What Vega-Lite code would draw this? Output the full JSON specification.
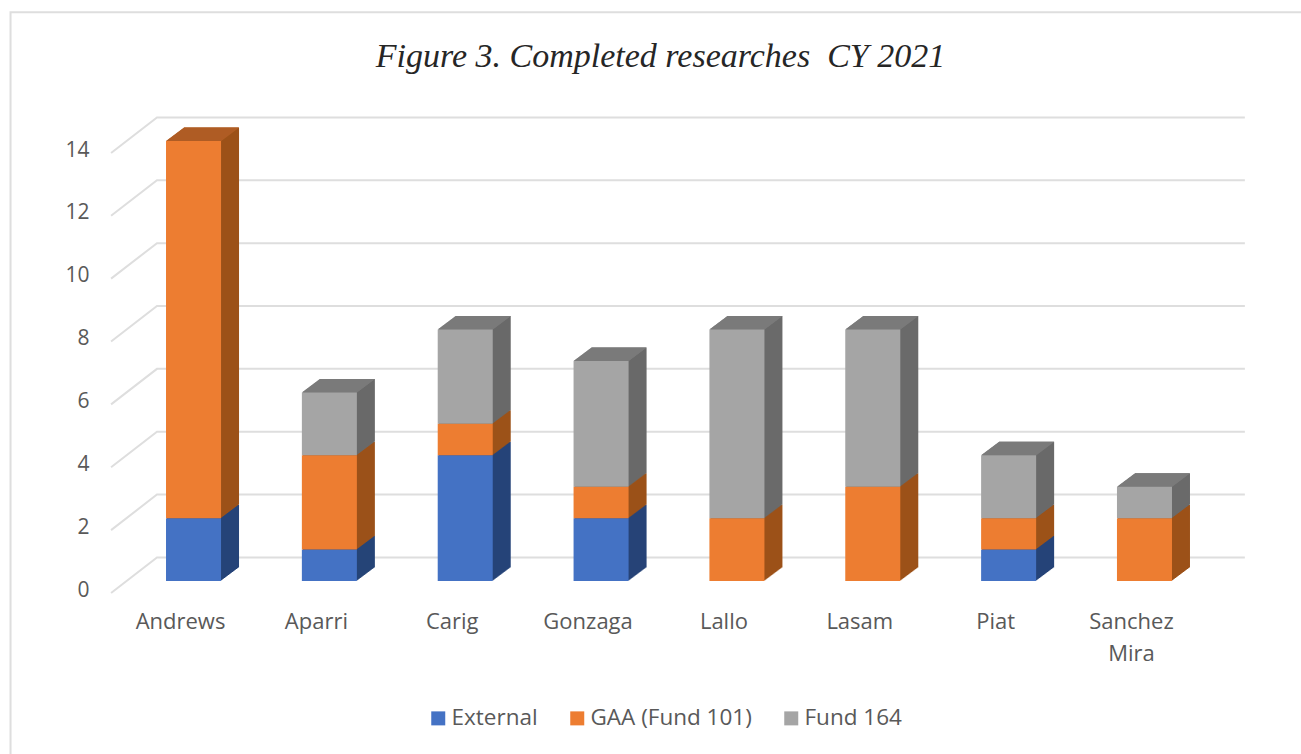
{
"$schema":"https://vega.github.io/schema/vega-lite/v6.json",
"width":1301,"height":754,"padding":0,"autosize":{"type":"none"},"background":"white",
"config":{"view":{"stroke":null}},
"title":{"text":"Figure 3. Completed researches \u00a0CY 2021","anchor":"middle","dx":10,"dy":78,"font":"Liberation Serif","fontStyle":"italic","fontWeight":"normal","fontSize":34,"color":"#262626"},
"resolve":{"scale":{"x":"independent"},"axis":{"y":"independent"}},
"layer":[
{"data":{"values":[
{"line":"border","u":-0.847,"v":-5.6,"o":1},{"line":"border","u":-0.847,"v":18.1,"o":2},{"line":"border","u":8.66,"v":18.1,"o":3},
{"line":"0","u":-0.107,"v":-0.38,"o":1},{"line":"0","u":0.231,"v":0.75,"o":2},{"line":"0","u":8.239,"v":0.75,"o":3},
{"line":"2","u":-0.107,"v":1.62,"o":1},{"line":"2","u":0.231,"v":2.75,"o":2},{"line":"2","u":8.239,"v":2.75,"o":3},
{"line":"4","u":-0.107,"v":3.62,"o":1},{"line":"4","u":0.231,"v":4.75,"o":2},{"line":"4","u":8.239,"v":4.75,"o":3},
{"line":"6","u":-0.107,"v":5.62,"o":1},{"line":"6","u":0.231,"v":6.75,"o":2},{"line":"6","u":8.239,"v":6.75,"o":3},
{"line":"8","u":-0.107,"v":7.62,"o":1},{"line":"8","u":0.231,"v":8.75,"o":2},{"line":"8","u":8.239,"v":8.75,"o":3},
{"line":"10","u":-0.107,"v":9.62,"o":1},{"line":"10","u":0.231,"v":10.75,"o":2},{"line":"10","u":8.239,"v":10.75,"o":3},
{"line":"12","u":-0.107,"v":11.62,"o":1},{"line":"12","u":0.231,"v":12.75,"o":2},{"line":"12","u":8.239,"v":12.75,"o":3},
{"line":"14","u":-0.107,"v":13.62,"o":1},{"line":"14","u":0.231,"v":14.75,"o":2},{"line":"14","u":8.239,"v":14.75,"o":3}
]},
"mark":{"type":"line","color":"#dedede","strokeWidth":2,"clip":false},
"encoding":{
"x":{"field":"u","type":"quantitative","axis":null,"scale":{"domain":[0,8],"range":[125.6,1212.4],"nice":false,"zero":false}},
"y":{"field":"v","type":"quantitative","axis":null,"scale":{"domain":[0,14],"range":[581,141],"nice":false,"zero":false}},
"detail":{"field":"line"},
"order":{"field":"o"}}},
{"data":{"values":[
{"site":"Andrews","series":"External","rank":1,"value":2},{"site":"Andrews","series":"GAA (Fund 101)","rank":2,"value":12},
{"site":"Aparri","series":"External","rank":1,"value":1},{"site":"Aparri","series":"GAA (Fund 101)","rank":2,"value":3},{"site":"Aparri","series":"Fund 164","rank":3,"value":2},
{"site":"Carig","series":"External","rank":1,"value":4},{"site":"Carig","series":"GAA (Fund 101)","rank":2,"value":1},{"site":"Carig","series":"Fund 164","rank":3,"value":3},
{"site":"Gonzaga","series":"External","rank":1,"value":2},{"site":"Gonzaga","series":"GAA (Fund 101)","rank":2,"value":1},{"site":"Gonzaga","series":"Fund 164","rank":3,"value":4},
{"site":"Lallo","series":"GAA (Fund 101)","rank":2,"value":2},{"site":"Lallo","series":"Fund 164","rank":3,"value":6},
{"site":"Lasam","series":"GAA (Fund 101)","rank":2,"value":3},{"site":"Lasam","series":"Fund 164","rank":3,"value":5},
{"site":"Piat","series":"External","rank":1,"value":1},{"site":"Piat","series":"GAA (Fund 101)","rank":2,"value":1},{"site":"Piat","series":"Fund 164","rank":3,"value":2},
{"site":"Sanchez Mira","series":"GAA (Fund 101)","rank":2,"value":2},{"site":"Sanchez Mira","series":"Fund 164","rank":3,"value":1}
]},
"transform":[{"stack":"value","groupby":["site"],"sort":[{"field":"rank","order":"ascending"}],"as":["y0","y1"]}],
"encoding":{
"x":{"field":"site","type":"nominal","title":null,"scale":{"range":[125.6,1212.4],"paddingInner":0.595,"paddingOuter":0.2975},
"axis":{"orient":"bottom","offset":-173,"domain":false,"ticks":false,"grid":false,"labelAngle":0,"labelPadding":30,"labelOffset":-13,"labelFont":"Open Sans","labelFontSize":22,"labelColor":"#595959","labelLineHeight":32,"labelExpr":"datum.label=='Sanchez Mira'?['Sanchez','Mira']:datum.label"}},
"y":{"field":"y1","type":"quantitative","title":null,"scale":{"domain":[0,14],"range":[581,141],"nice":false,"zero":false},
"axis":{"orient":"left","offset":-89,"values":[0,2,4,6,8,10,12,14],"domain":false,"ticks":false,"grid":false,"labelPadding":0,"labelOffset":9,"labelFont":"Open Sans","labelFontSize":21,"labelColor":"#595959"}}
},
"layer":[
{"encoding":{"y2":{"field":"y0"},"fill":{"field":"series","type":"nominal","legend":null,"scale":{"domain":["Fund 164","GAA (Fund 101)","External"],"range":["#6a6a6a","#9c5219","#264478"]}}},
"layer":[
{"mark":{"type":"bar","xOffset":18,"yOffset":-13.5,"y2Offset":-13.5}},
{"mark":{"type":"bar","xOffset":17,"yOffset":-12.75,"y2Offset":-12.75}},
{"mark":{"type":"bar","xOffset":16,"yOffset":-12,"y2Offset":-12}},
{"mark":{"type":"bar","xOffset":15,"yOffset":-11.25,"y2Offset":-11.25}},
{"mark":{"type":"bar","xOffset":14,"yOffset":-10.5,"y2Offset":-10.5}},
{"mark":{"type":"bar","xOffset":13,"yOffset":-9.75,"y2Offset":-9.75}},
{"mark":{"type":"bar","xOffset":12,"yOffset":-9,"y2Offset":-9}},
{"mark":{"type":"bar","xOffset":11,"yOffset":-8.25,"y2Offset":-8.25}},
{"mark":{"type":"bar","xOffset":10,"yOffset":-7.5,"y2Offset":-7.5}},
{"mark":{"type":"bar","xOffset":9,"yOffset":-6.75,"y2Offset":-6.75}},
{"mark":{"type":"bar","xOffset":8,"yOffset":-6,"y2Offset":-6}},
{"mark":{"type":"bar","xOffset":7,"yOffset":-5.25,"y2Offset":-5.25}},
{"mark":{"type":"bar","xOffset":6,"yOffset":-4.5,"y2Offset":-4.5}},
{"mark":{"type":"bar","xOffset":5,"yOffset":-3.75,"y2Offset":-3.75}},
{"mark":{"type":"bar","xOffset":4,"yOffset":-3,"y2Offset":-3}},
{"mark":{"type":"bar","xOffset":3,"yOffset":-2.25,"y2Offset":-2.25}},
{"mark":{"type":"bar","xOffset":2,"yOffset":-1.5,"y2Offset":-1.5}},
{"mark":{"type":"bar","xOffset":1,"yOffset":-0.75,"y2Offset":-0.75}}
]},
{"transform":[{"joinaggregate":[{"op":"max","field":"rank","as":"topRank"}],"groupby":["site"]},{"filter":"datum.rank==datum.topRank"}],
"layer":[
{"mark":{"type":"point","shape":"M-27.5 0L27.5 0L45.5 -13.5L-9.5 -13.5Z","size":4,"filled":true,"opacity":1,"strokeWidth":0},
"encoding":{"color":{"field":"series","type":"nominal","scale":{"domain":["External","GAA (Fund 101)","Fund 164"],"range":["#4472c4","#ed7d31","#a5a5a5"]},
"legend":{"orient":"none","legendX":427,"legendY":707,"direction":"horizontal","title":null,"symbolType":"square","symbolSize":196,"symbolStrokeWidth":0,"symbolOpacity":1,"labelFont":"Open Sans","labelFontSize":22.5,"labelLimit":400,"labelColor":"#595959","columnPadding":28,"labelOffset":2}}}},
{"mark":{"type":"point","shape":"M-27.5 0L27.5 0L45.5 -13.5L-9.5 -13.5Z","size":4,"filled":true,"color":"black","opacity":0.26,"strokeWidth":0}}
]},
{"mark":{"type":"bar"},
"encoding":{"y2":{"field":"y0"},
"color":{"field":"series","type":"nominal","scale":{"domain":["External","GAA (Fund 101)","Fund 164"],"range":["#4472c4","#ed7d31","#a5a5a5"]},
"legend":{"orient":"none","legendX":427,"legendY":707,"direction":"horizontal","title":null,"symbolType":"square","symbolSize":196,"symbolStrokeWidth":0,"symbolOpacity":1,"labelFont":"Open Sans","labelFontSize":22.5,"labelLimit":400,"labelColor":"#595959","columnPadding":28,"labelOffset":2}}}}
]}
]}
